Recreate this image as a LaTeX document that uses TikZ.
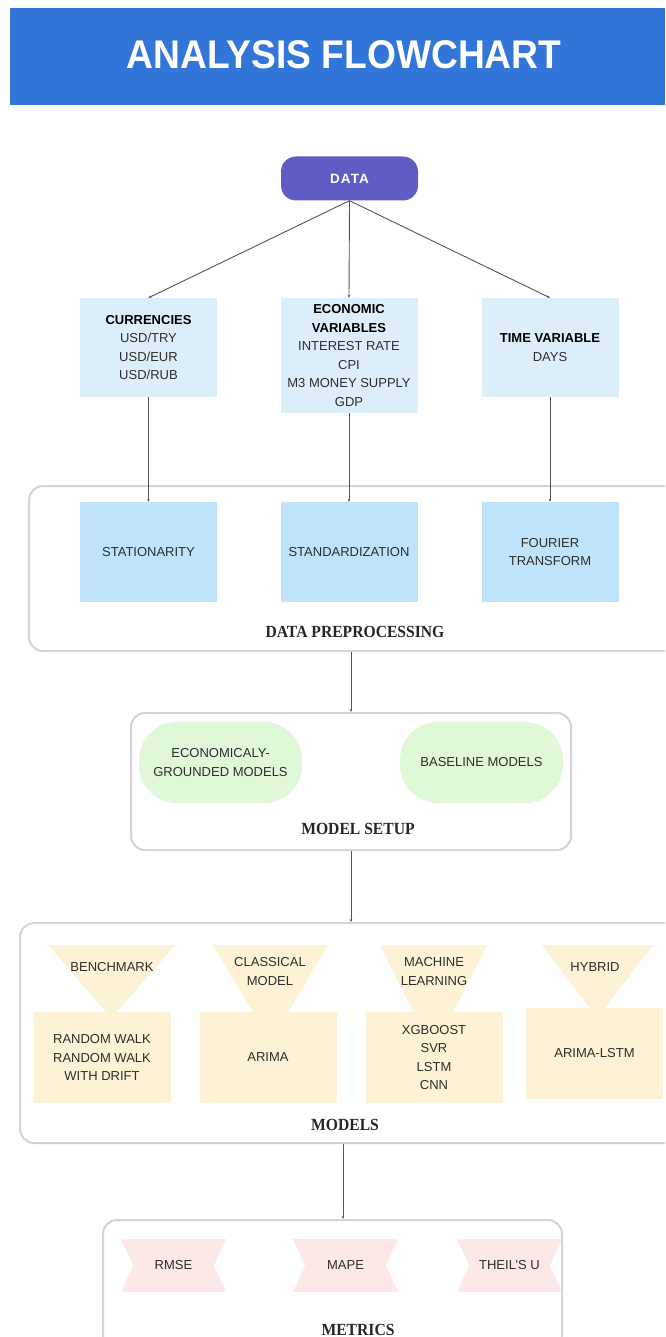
\documentclass[tikz,border=0pt]{standalone}
\usepackage{fontspec}
\setmainfont{Liberation Sans}
\newfontfamily\titlefont{Liberation Sans}[FakeStretch=0.93]
\newfontfamily\groupfont{Liberation Serif}[FakeStretch=0.92]
\usepackage{tikz}
\usetikzlibrary{arrows.meta,shapes.symbols,positioning,calc}
\definecolor{banner}{RGB}{50,118,218}
\definecolor{databox}{RGB}{96,92,197}
\definecolor{sourcebox}{RGB}{221,238,251}
\definecolor{prepbox}{RGB}{191,227,250}
\definecolor{setupbox}{RGB}{223,248,216}
\definecolor{modelbox}{RGB}{253,242,214}
\definecolor{metricbox}{RGB}{253,232,232}
\definecolor{frame}{RGB}{212,212,212}
\definecolor{link}{RGB}{85,85,85}

\begin{document}
\begin{tikzpicture}[
    x=1pt, y=-1pt,
    txt/.style={font=\fontsize{13}{18.5}\selectfont, align=center, text=black!82, inner sep=0pt},
    source/.style={txt, fill=sourcebox, minimum width=137pt, minimum height=99pt},
    prep/.style={txt, fill=prepbox, minimum width=137pt, minimum height=100pt},
    setup/.style={txt, fill=setupbox, minimum width=163pt, minimum height=81pt, rounded corners=38pt},
    model/.style={txt, fill=modelbox, minimum width=137pt, minimum height=91pt},
    metric/.style={txt, fill=metricbox, shape=signal, signal to=nowhere, signal from=west and east,
        signal pointer angle=131, minimum width=105pt, minimum height=53pt},
    group/.style={draw=frame, line width=2pt, rounded corners=14pt},
    grouplabel/.style={font=\groupfont\bfseries\fontsize{17}{17}\selectfont, text=black!85, inner sep=0pt},
    link/.style={draw=link, line width=0.9pt, -{Stealth[length=3pt,width=2.5pt]}}
]
\useasboundingbox (0,0) rectangle (665,1337);
\clip (0,0) rectangle (665,1337);
\fill[white] (0,0) rectangle (665,1337);

% Title banner
\fill[banner] (10,8) rectangle (665,105);
\node[font=\titlefont\bfseries\fontsize{40}{40}\selectfont, text=white] (title) at (344,55) {ANALYSIS FLOWCHART};

% Data sources
\node[fill=databox, rounded corners=15pt, minimum width=137pt, minimum height=44pt, text=white,
    font=\bfseries\fontsize{13.5}{13.5}\selectfont\addfontfeature{LetterSpace=8}] (data) at (349.5,178.5) {DATA};

\node[source] (cur) at (148.5,347.5) {\textbf{\color{black}CURRENCIES}\\USD/TRY\\USD/EUR\\USD/RUB};
\node[source, minimum height=115pt] (eco) at (349,355.5) {\textbf{\color{black}ECONOMIC}\\\textbf{\color{black}VARIABLES}\\INTEREST RATE\\CPI\\M3 MONEY SUPPLY\\GDP};
\node[source] (time) at (550,347.5) {\textbf{\color{black}TIME VARIABLE}\\DAYS};

% Data preprocessing
\node[group, minimum width=651pt, minimum height=165pt] (prepgroup) at (354.5,568.5) {};
\node[prep] (stat) at (148.5,552) {STATIONARITY};
\node[prep] (stand) at (349,552) {STANDARDIZATION};
\node[prep] (fourier) at (550,552) {FOURIER\\TRANSFORM};
\node[grouplabel] (preplabel) at (355,632) {DATA PREPROCESSING};

% Model setup
\node[group, minimum width=440pt, minimum height=137pt] (setupgroup) at (351,781.5) {};
\node[setup] (econ) at (220.5,762.5) {ECONOMICALY-\\GROUNDED MODELS};
\node[setup] (base) at (481.5,762.5) {BASELINE MODELS};
\node[grouplabel] (setuplabel) at (358,829) {MODEL SETUP};

% Models
\node[group, minimum width=660pt, minimum height=220pt] (modelgroup) at (350,1033) {};
\foreach \l/\r/\ax/\ay in {48/175/111.5/1018, 213/328/270.5/1042, 380/487/433.5/1052, 542/653/597.5/1018}
    \fill[modelbox] (\l,945) -- (\r,945) -- (\ax,\ay) -- cycle;
\node[model] (bench) at (102,1057.5) {RANDOM WALK\\RANDOM WALK\\WITH DRIFT};
\node[model] (classic) at (268,1057.5) {ARIMA};
\node[model] (ml) at (434,1057.5) {XGBOOST\\SVR\\LSTM\\CNN};
\node[model] (hybrid) at (594.5,1053.5) {ARIMA-LSTM};
\node[txt] (benchhead) at (112,967) {BENCHMARK};
\node[txt] (classichead) at (270,971.5) {CLASSICAL\\MODEL};
\node[txt] (mlhead) at (434,971.5) {MACHINE\\LEARNING};
\node[txt] (hybridhead) at (595,967) {HYBRID};
\node[grouplabel] (modellabel) at (345,1125) {MODELS};

% Metrics
\node[group, minimum width=459pt, minimum height=130pt] (metricgroup) at (332.5,1285) {};
\node[metric] (rmse) at (173.5,1265.5) {RMSE};
\node[metric] (mape) at (345.5,1265.5) {MAPE};
\node[metric] (theil) at (509.5,1265.5) {THEIL'S U};
\node[grouplabel] (metriclabel) at (358,1330) {METRICS};

% Connectors
\foreach \t in {cur,eco,time}
    \draw[link] (data.south) -- (\t.north);
\foreach \a/\b in {cur/stat, eco/stand, time/fourier}
    \draw[link] (\a) -- (\b);
\draw[link] (prepgroup.south -| setupgroup.north) -- (setupgroup.north);
\draw[link] (setupgroup.south) -- (setupgroup.south |- modelgroup.north);
\draw[link] ([xshift=-7pt]modelgroup.south) -- ([xshift=-7pt]modelgroup.south |- metricgroup.north);
\end{tikzpicture}
\end{document}
